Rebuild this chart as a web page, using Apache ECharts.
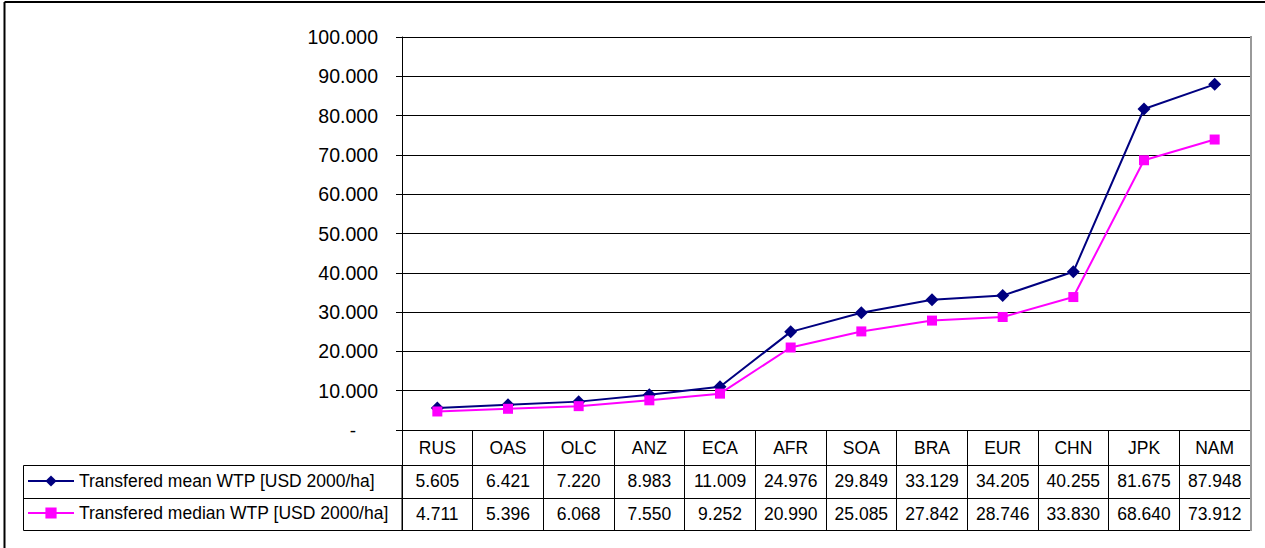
<!DOCTYPE html>
<html>
<head>
<meta charset="utf-8">
<script src="https://cdn.jsdelivr.net/npm/echarts@6/dist/echarts.min.js"></script>
<style>
  html, body { margin: 0; padding: 0; background: #fff; }
  #chart { width: 1265px; height: 548px; }
</style>
</head>
<body>
<div id="chart"></div>
<script>
// regions, sorted by mean WTP
const regions = ['RUS', 'OAS', 'OLC', 'ANZ', 'ECA', 'AFR', 'SOA', 'BRA', 'EUR', 'CHN', 'JPK', 'NAM'];
const meanWtp = [5.605, 6.421, 7.220, 8.983, 11.009, 24.976, 29.849, 33.129, 34.205, 40.255, 81.675, 87.948];
const medianWtp = [4.711, 5.396, 6.068, 7.550, 9.252, 20.990, 25.085, 27.842, 28.746, 33.830, 68.640, 73.912];
const meanName = 'Transfered mean WTP [USD 2000/ha]';
const medianName = 'Transfered median WTP [USD 2000/ha]';

const FONT = '"Liberation Sans", Arial, sans-serif';
const fmt3 = v => v.toFixed(3);

const chart = echarts.init(document.getElementById('chart'), null, { renderer: 'svg' });

// one extra category axis per table row, stacked under the plot
function tableAxis(offset, tickLen, values, margin) {
  return {
    type: 'category',
    data: regions,
    position: 'bottom',
    offset: offset,
    boundaryGap: true,
    axisLine: { show: true, lineStyle: { color: '#000', width: 1 } },
    axisTick: { show: tickLen > 0, length: tickLen, interval: 0, lineStyle: { color: '#000', width: 1 } },
    axisLabel: {
      show: !!values,
      interval: 0,
      margin: margin,
      color: '#000',
      fontFamily: FONT,
      fontSize: 17.5,
      formatter: (v, i) => values ? values[i] : ''
    },
    splitLine: { show: false }
  };
}

chart.setOption({
  animation: false,
  backgroundColor: '#fff',
  grid: { left: 402, right: 15, top: 37, bottom: 118 },
  legend: {
    orient: 'vertical',
    left: 27,
    top: 472,
    padding: 0,
    itemWidth: 46,
    itemHeight: 14,
    itemGap: 14,
    textStyle: { color: '#000', fontFamily: FONT, fontSize: 17.5 },
    data: [meanName, medianName]
  },
  xAxis: [
    tableAxis(0, 35, regions, 9),
    tableAxis(35, 33, meanWtp.map(fmt3), 7),
    tableAxis(68, 32, medianWtp.map(fmt3), 7),
    tableAxis(100, 0, null, 0)
  ],
  yAxis: {
    type: 'value',
    min: 0,
    max: 100,
    interval: 10,
    axisLine: { show: true, lineStyle: { color: '#000', width: 1 } },
    axisTick: { show: true, length: 6, lineStyle: { color: '#000' } },
    axisLabel: {
      margin: 24,
      color: '#000',
      fontFamily: FONT,
      fontSize: 19.5,
      formatter: v => v === 0 ? '{z|-}' : v.toFixed(3),
      rich: { z: { fontFamily: FONT, fontSize: 19, color: '#000', padding: [0, 22, 0, 0] } }
    },
    splitLine: { show: true, lineStyle: { color: '#000', width: 1 } }
  },
  series: [
    {
      name: meanName,
      type: 'line',
      data: meanWtp,
      symbol: 'diamond',
      symbolSize: 13,
      color: '#000080',
      lineStyle: { width: 2, color: '#000080' },
      itemStyle: { color: '#000080' }
    },
    {
      name: medianName,
      type: 'line',
      data: medianWtp,
      symbol: 'rect',
      symbolSize: 10,
      color: '#ff00ff',
      lineStyle: { width: 2, color: '#ff00ff' },
      itemStyle: { color: '#ff00ff' }
    }
  ],
  graphic: [
    // outer frame (top and left edges visible)
    { type: 'line', shape: { x1: 4.5, y1: 2, x2: 1265, y2: 2 }, style: { stroke: '#000', lineWidth: 2 } },
    { type: 'line', shape: { x1: 4.5, y1: 2, x2: 4.5, y2: 548 }, style: { stroke: '#000', lineWidth: 2 } },
    // legend cells of the data table
    { type: 'rect', shape: { x: 23.5, y: 465.5, width: 378.5, height: 65 }, style: { fill: 'none', stroke: '#000', lineWidth: 1 }, z: 10 },
    { type: 'line', shape: { x1: 23.5, y1: 498.5, x2: 402, y2: 498.5 }, style: { stroke: '#000', lineWidth: 1 }, z: 10 },
    // grey right edge of plot area / table
    { type: 'line', shape: { x1: 1251, y1: 36, x2: 1251, y2: 531 }, style: { stroke: '#999', lineWidth: 2 }, z: 10 }
  ]
});
</script>
</body>
</html>
